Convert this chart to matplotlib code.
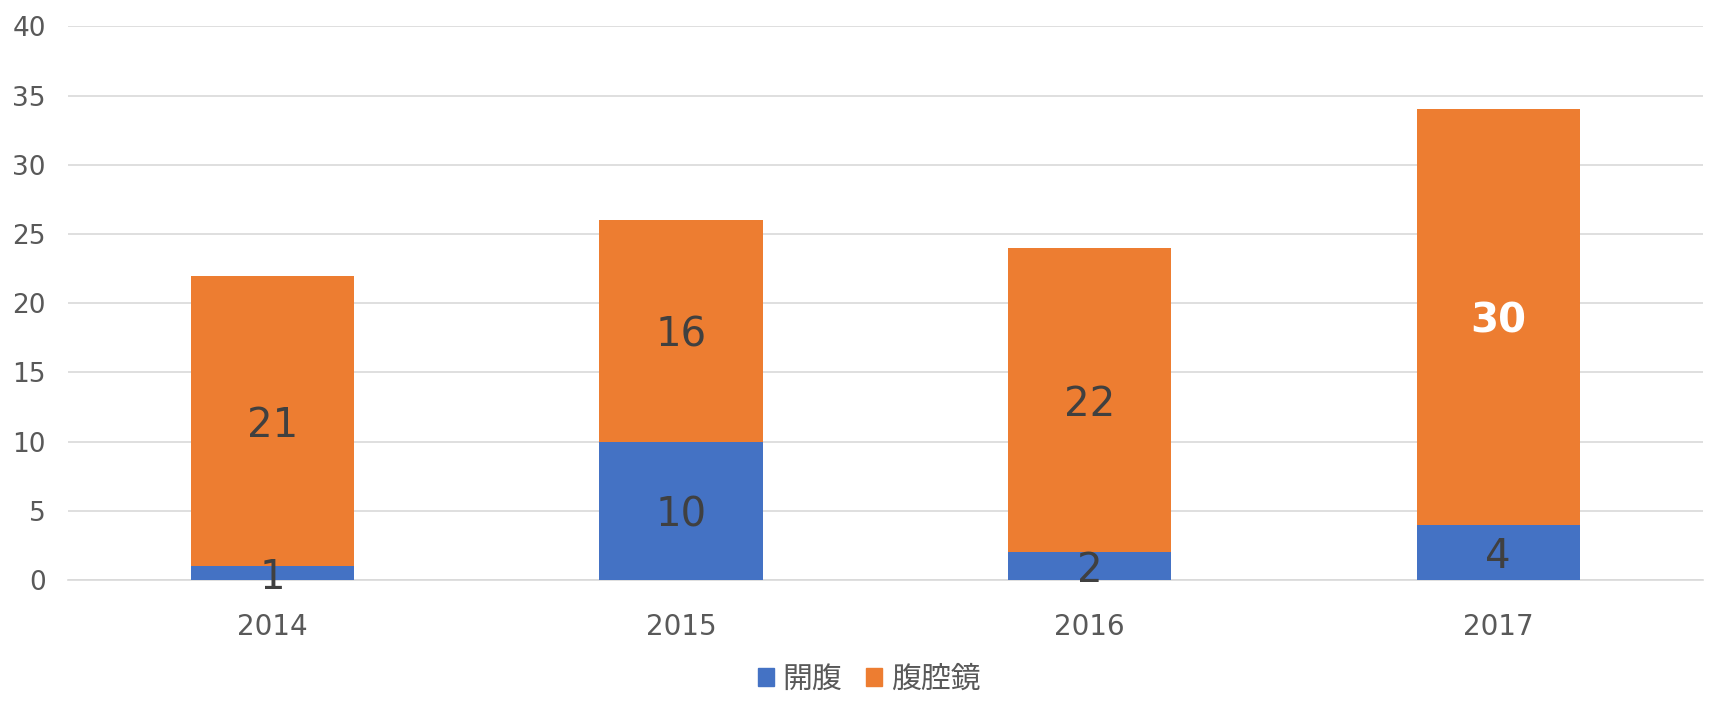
import matplotlib
matplotlib.use('Agg')
import matplotlib.pyplot as plt
from matplotlib.patches import Patch

plt.rcParams['font.family'] = ['DejaVu Sans', 'Noto Sans CJK JP']

years = ['2014', '2015', '2016', '2017']
kaifuku = [1, 10, 2, 4]
fukukukyo = [21, 16, 22, 30]
series_names = ['開腹', '腹腔鏡']

blue = '#4472C4'
orange = '#ED7D31'
grid_c = '#D9D9D9'
text_c = '#595959'

fig = plt.figure(figsize=(17.25, 7.14), dpi=100)
ax = fig.add_axes([0.0394, 0.1877, 0.9476, 0.7753])

x = list(range(len(years)))
ax.bar(x, kaifuku, width=0.4, color=blue, zorder=3)
ax.bar(x, fukukukyo, width=0.4, bottom=kaifuku, color=orange, zorder=3)

# data labels in the middle of each segment, nudged down a little like Excel
for i in x:
    ax.annotate(str(kaifuku[i]), (i, kaifuku[i] / 2), xytext=(0, -3.5),
                textcoords='offset points', ha='center', va='center',
                fontsize=29, color='#404040', zorder=4)
    mid = kaifuku[i] + fukukukyo[i] / 2
    if i == 3:
        ax.annotate(str(fukukukyo[i]), (i, mid), xytext=(0, -3.5),
                    textcoords='offset points', ha='center', va='center',
                    fontsize=29, color='white', fontweight='bold', zorder=4)
    else:
        ax.annotate(str(fukukukyo[i]), (i, mid), xytext=(0, -3.5),
                    textcoords='offset points', ha='center', va='center',
                    fontsize=29, color='#404040', zorder=4)

ax.set_xlim(-0.5, 3.5)
ax.set_ylim(0, 40)
ax.set_yticks(range(0, 41, 5))
ax.set_xticks(x)
ax.set_xticklabels(years)
ax.yaxis.grid(True, color=grid_c, linewidth=1.2, zorder=0)
for s in ['top', 'right', 'left']:
    ax.spines[s].set_visible(False)
ax.spines['bottom'].set_color(grid_c)
ax.spines['bottom'].set_linewidth(1.2)
ax.tick_params(axis='both', length=0, labelcolor=text_c)
ax.tick_params(axis='x', pad=24, labelsize=20)
ax.tick_params(axis='y', pad=16, labelsize=19)

handles = [Patch(color=blue), Patch(color=orange)]
fig.legend(handles, series_names, loc='center', bbox_to_anchor=(0.504, 0.049),
           ncol=2, frameon=False, handlelength=0.52, handleheight=0.52,
           handletextpad=0.3, columnspacing=0.8, labelcolor=text_c,
           prop={'family': ['Noto Sans CJK JP'], 'size': 21.5})

fig.savefig('out.png', dpi=100)
